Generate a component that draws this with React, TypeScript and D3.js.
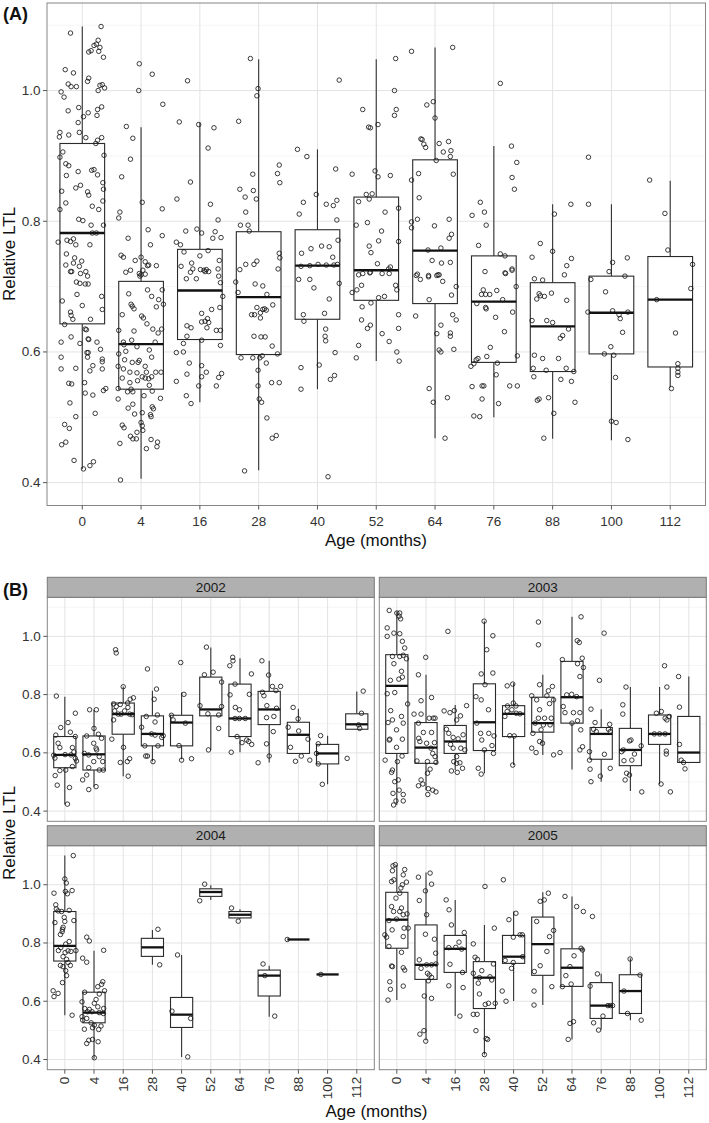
import React from 'react';
import * as d3 from 'd3';

const FONT = '"Liberation Sans", Arial, Helvetica, sans-serif';

// x categories (age in months) and y axis setup
const ages = ['0', '4', '16', '28', '40', '52', '64', '76', '88', '100', '112'];
const yDomain: [number, number] = [0.365, 1.134];
const yMajor = [0.4, 0.6, 0.8, 1.0];
const yMinor = [0.5, 0.7, 0.9, 1.1];
const years = ['2002', '2003', '2004', '2005'];

// box stats: [lower whisker, q1, median, q3, upper whisker]
type Box = number[] | null;
// points: [jitter (fraction of category step), relative LTL]
type Pt = number[];

const boxesA: Box[] = [
  [0.421, 0.643, 0.782, 0.919, 1.098],
  [0.406, 0.543, 0.612, 0.708, 0.944],
  [0.523, 0.619, 0.694, 0.757, 0.951],
  [0.419, 0.596, 0.684, 0.784, 1.048],
  [0.543, 0.650, 0.732, 0.787, 0.910],
  [0.586, 0.679, 0.725, 0.837, 1.048],
  [0.468, 0.674, 0.755, 0.894, 1.066],
  [0.500, 0.584, 0.677, 0.747, 0.915],
  [0.467, 0.570, 0.639, 0.706, 0.826],
  [0.465, 0.597, 0.660, 0.716, 0.826],
  [0.546, 0.577, 0.680, 0.746, 0.862],
];

const pointsA: Pt[][] = [
  [[-0.20,1.088],[0.32,1.098],[0.27,1.077],[0.24,1.071],[0.20,1.069],[0.15,1.061],[0.11,1.059],[0.30,1.066],[0.28,1.060],[0.36,1.051],[-0.29,1.032],[-0.15,1.027],[-0.24,1.010],[-0.19,1.006],[-0.10,1.006],[0.09,1.014],[0.11,1.019],[-0.36,0.998],[-0.31,0.990],[0.30,1.008],[0.34,1.009],[0.38,1.004],[0.27,1.000],[-0.24,0.969],[-0.06,0.974],[0.10,0.966],[0.26,0.971],[0.33,0.975],[0.25,0.962],[0.02,0.960],[-0.07,0.951],[-0.05,0.936],[-0.39,0.929],[-0.38,0.936],[-0.23,0.932],[0.06,0.928],[0.33,0.928],[0.23,0.919],[0.26,0.924],[-0.38,0.898],[-0.33,0.906],[-0.28,0.888],[-0.23,0.885],[-0.27,0.870],[-0.07,0.876],[0.16,0.878],[0.20,0.879],[0.26,0.871],[0.37,0.901],[0.35,0.859],[0.36,0.849],[-0.35,0.846],[-0.28,0.828],[-0.11,0.851],[-0.03,0.855],[0.09,0.845],[0.11,0.840],[0.17,0.823],[0.28,0.818],[0.35,0.831],[-0.38,0.818],[-0.06,0.803],[0.01,0.801],[0.15,0.794],[0.24,0.782],[0.17,0.782],[0.36,0.794],[-0.41,0.768],[-0.26,0.771],[-0.20,0.769],[-0.15,0.773],[-0.11,0.764],[0.13,0.764],[-0.27,0.750],[-0.13,0.744],[-0.01,0.739],[-0.28,0.733],[-0.15,0.736],[-0.05,0.731],[0.06,0.723],[-0.18,0.723],[0.09,0.716],
   [-0.20,0.723],[-0.03,0.720],[-0.10,0.707],[-0.04,0.705],[0.05,0.704],[0.10,0.704],[-0.09,0.688],[-0.34,0.678],[0,0.671],[0.14,0.650],[0.33,0.685],[0.34,0.665],[-0.20,0.661],[-0.19,0.656],[-0.16,0.650],[-0.30,0.642],[0.05,0.635],[0.07,0.634],[-0.19,0.623],[-0.04,0.613],[0.10,0.620],[0.11,0.619],[0.25,0.615],[-0.36,0.615],[0.08,0.599],[0.10,0.599],[0.31,0.604],[-0.36,0.592],[0.09,0.592],[0.34,0.589],[0.34,0.585],[0.18,0.579],[-0.11,0.575],[-0.36,0.574],[0.34,0.574],[0.13,0.571],[0.04,0.553],[-0.18,0.551],[-0.23,0.552],[0.40,0.544],[0.36,0.541],[0.05,0.537],[0.18,0.534],[-0.21,0.522],[0.22,0.506],[-0.11,0.501],[-0.30,0.489],[-0.22,0.483],[-0.28,0.462],[-0.35,0.458],[-0.14,0.434],[0.13,0.426],[0.19,0.432],[0.02,0.421]],
  [[-0.03,1.041],[0.19,1.025],[-0.04,1.000],[0.37,0.979],[-0.25,0.945],[-0.14,0.927],[-0.18,0.895],[-0.33,0.868],[0.02,0.829],[0.36,0.819],[-0.36,0.814],[-0.38,0.805],[0.12,0.787],[-0.22,0.774],[0.36,0.778],[0.16,0.764],[-0.34,0.748],[-0.30,0.745],[-0.10,0.740],[0,0.745],[0.07,0.738],[0.11,0.732],[0.13,0.733],[0.26,0.732],[-0.18,0.725],[-0.03,0.720],[0,0.718],[0.03,0.725],
   [-0.26,0.722],[-0.02,0.716],[0.07,0.719],[0.11,0.695],[-0.21,0.689],[0.18,0.685],[0.36,0.695],[0.30,0.680],[-0.17,0.673],[-0.15,0.670],[-0.12,0.666],[0.38,0.673],[0.26,0.669],[-0.32,0.657],[0.01,0.655],[0.04,0.652],[0.10,0.643],[0.20,0.635],[-0.12,0.632],[0.35,0.635],[-0.38,0.633],[0.29,0.629],[-0.30,0.615],[-0.29,0.611],[-0.16,0.618],[-0.07,0.608],[0.24,0.615],[0.14,0.603],[-0.26,0.601],[-0.38,0.597],[-0.28,0.588],[-0.03,0.587],[0.18,0.592],[-0.15,0.584],[-0.05,0.584],[0.07,0.578],[-0.39,0.578],[-0.30,0.574],[-0.19,0.569],[-0.07,0.568],[0.09,0.569],[0.25,0.569],[0.34,0.569],[0.02,0.562],[0.07,0.560],[0.13,0.559],[-0.32,0.560],[0.18,0.562],[-0.19,0.553],[-0.06,0.556],[0.14,0.549],[-0.39,0.544],[-0.17,0.543],[-0.14,0.539],[-0.23,0.539],[0.19,0.540],[0.05,0.533],[0.33,0.529],[-0.39,0.528],[-0.14,0.520],[-0.22,0.514],[0.19,0.516],[0.21,0.513],[0.02,0.507],[-0.11,0.505],[0.16,0.504],[0.17,0.501],[0,0.492],[0.02,0.487],[-0.32,0.488],[-0.29,0.484],[0.03,0.480],[-0.07,0.477],[-0.18,0.471],[-0.14,0.467],[-0.08,0.467],[0.17,0.466],[0.28,0.462],[-0.36,0.460],[0.27,0.455],[0.09,0.452],[-0.35,0.404]],
  [[-0.21,1.015],[-0.35,0.952],[-0.02,0.948],[0.24,0.943],[0.14,0.912],[-0.16,0.860],[-0.39,0.834],[0.18,0.826],[0.31,0.802],[-0.24,0.785],[-0.05,0.788],[0.03,0.782],[0.26,0.784],[0.22,0.774],[0.36,0.775],[-0.40,0.768],[-0.33,0.764],[-0.27,0.753],[0.14,0.755],[0,0.747],[-0.14,0.736],[-0.32,0.731],[-0.12,0.727],[0.01,0.726],[0.07,0.725],[0.11,0.726],[0.31,0.727],[0.33,0.740],
   [-0.23,0.712],[-0.06,0.712],[0.09,0.723],[0.15,0.723],[-0.16,0.722],[0.32,0.716],[0.35,0.706],[0.39,0.685],[0.34,0.668],[0.20,0.665],[0.03,0.659],[0.09,0.647],[0.13,0.651],[0.15,0.645],[0.03,0.646],[0.12,0.637],[0.28,0.633],[0.35,0.633],[-0.22,0.640],[-0.15,0.637],[-0.22,0.624],[0.03,0.618],[0.35,0.610],[-0.28,0.613],[-0.40,0.599],[-0.28,0.600],[-0.18,0.583],[0.03,0.579],[0.11,0.569],[0.03,0.562],[0.37,0.567],[0.32,0.561],[-0.22,0.566],[-0.40,0.555],[-0.02,0.548],[0.28,0.548],[-0.23,0.533],[-0.15,0.521]],
  [[-0.14,1.049],[-0.01,1.003],[-0.03,0.992],[-0.34,0.953],[0.35,0.886],[0.32,0.873],[0.36,0.859],[-0.10,0.872],[-0.32,0.849],[-0.09,0.847],[-0.23,0.837],[-0.04,0.834],[-0.22,0.814],[-0.31,0.794],[-0.18,0.794],[-0.16,0.785],[-0.32,0.726],[-0.22,0.734],[-0.08,0.734],[-0.03,0.739],[0.33,0.727],[0.36,0.744],[0.35,0.751],
   [-0.39,0.707],[-0.35,0.691],[-0.06,0.704],[0.07,0.701],[0.14,0.688],[0.24,0.672],[-0.12,0.657],[-0.07,0.657],[0.03,0.660],[0.07,0.665],[0.10,0.666],[0.13,0.664],[-0.03,0.668],[0.03,0.652],[-0.08,0.624],[0.04,0.623],[0.11,0.623],[0.23,0.609],[-0.30,0.591],[-0.10,0.591],[0.02,0.591],[0.06,0.594],[0.32,0.597],[-0.01,0.572],[0.13,0.583],[0.22,0.553],[0.35,0.553],[-0.01,0.548],[0.01,0.528],[0.05,0.523],[0.14,0.499],[0.23,0.468],[0.30,0.472],[-0.24,0.418]],
  [[0.37,1.016],[-0.34,0.910],[-0.18,0.899],[-0.02,0.841],[-0.24,0.829],[0.15,0.826],[0.31,0.880],[0.27,0.824],[0.33,0.832],[0.33,0.802],[-0.31,0.811],[-0.27,0.751],[-0.11,0.758],[0.07,0.762],[0.20,0.761],[0.26,0.745],[0.35,0.771],[-0.28,0.731],[-0.13,0.732],[0.01,0.734],[0.15,0.733],[0.28,0.733],[0.34,0.734],[-0.32,0.711],[-0.13,0.711],[-0.06,0.698],[0.20,0.681],[0.37,0.705],[-0.24,0.657],[-0.23,0.647],[0.12,0.659],[0.14,0.635],[0.13,0.624],[0.14,0.617],[0.30,0.599],[-0.28,0.576],[0.03,0.580],[0.29,0.564],[0.22,0.558],[-0.28,0.543],[0.18,0.409]],
  [[0.33,1.049],[0.31,1.000],[-0.23,0.971],[0.34,0.971],[0.31,0.962],[-0.13,0.944],[-0.10,0.943],[0.03,0.948],[-0.41,0.872],[-0.02,0.877],[0.03,0.868],[0.24,0.870],[-0.17,0.841],[-0.12,0.834],[-0.07,0.842],[-0.30,0.830],[0.15,0.814],[0.38,0.820],[-0.34,0.794],[-0.15,0.798],[0.09,0.785],[-0.12,0.762],[-0.09,0.752],[0.04,0.770],[0.38,0.769],[0.02,0.735],[0.24,0.730],[0.21,0.727],[0.10,0.720],[0.22,0.720],[-0.30,0.718],[-0.10,0.722],
   [-0.23,0.720],[-0.11,0.721],[-0.25,0.702],[0.33,0.702],[0.35,0.695],[-0.41,0.691],[-0.33,0.695],[0.04,0.683],[0.14,0.685],[-0.09,0.675],[-0.24,0.669],[0.38,0.657],[-0.25,0.649],[-0.10,0.641],[-0.15,0.636],[0.38,0.636],[0.10,0.628],[0.22,0.616],[-0.30,0.610],[-0.34,0.591],[0.35,0.600],[0.39,0.586]],
  [[0.30,1.066],[-0.40,1.060],[-0.14,0.978],[-0.03,0.983],[0,0.958],[-0.24,0.926],[-0.22,0.925],[-0.19,0.918],[-0.16,0.913],[0.07,0.919],[0.23,0.922],[0.27,0.908],[0.14,0.906],[0.26,0.899],[0.02,0.893],[-0.40,0.863],[-0.28,0.873],[0.31,0.872],[-0.27,0.836],[-0.40,0.790],[-0.40,0.799],[-0.30,0.803],[-0.01,0.793],[0.24,0.803],[0.28,0.780],[0.24,0.774],[-0.12,0.756],[0.10,0.759],[-0.05,0.740],[0.11,0.736],[0.26,0.737],[-0.30,0.719],[-0.11,0.715],[0.05,0.718],
   [-0.32,0.717],[-0.25,0.711],[-0.11,0.717],[0.03,0.717],[0.07,0.718],[0.13,0.708],[0.36,0.700],[0.28,0.687],[-0.10,0.680],[-0.33,0.655],[0.30,0.657],[0.36,0.649],[0.10,0.641],[0.26,0.629],[0.26,0.624],[0.03,0.628],[0.07,0.603],[0.10,0.600],[0.32,0.604],[-0.10,0.544],[-0.03,0.523],[0.21,0.530],[0.17,0.468]],
  [[0.11,1.011],[0.30,0.915],[0.39,0.890],[0.31,0.867],[0.35,0.849],[-0.23,0.829],[-0.16,0.814],[-0.37,0.809],[-0.13,0.794],[-0.26,0.763],[0.11,0.750],[0.19,0.747],[-0.15,0.723],[0.31,0.727],[0.19,0.721],
   [0.20,0.720],[0.31,0.725],[0.38,0.700],[-0.18,0.695],[0.05,0.694],[-0.21,0.688],[-0.14,0.688],[-0.07,0.688],[0.15,0.680],[-0.29,0.674],[-0.14,0.668],[-0.13,0.666],[0.32,0.661],[0.03,0.653],[0.18,0.631],[-0.06,0.607],[-0.12,0.593],[0.40,0.594],[-0.27,0.590],[-0.30,0.588],[-0.39,0.578],[-0.34,0.582],[0.06,0.583],[0.04,0.565],[-0.37,0.547],[-0.20,0.548],[-0.17,0.548],[0.27,0.548],[0.40,0.548],[-0.20,0.528],[0.08,0.521],[-0.34,0.502],[-0.24,0.501]],
  [[-0.35,0.745],[-0.21,0.766],[0.03,0.811],[0.31,0.826],[0,0.754],[0.32,0.743],[0.24,0.732],[0.20,0.718],
   [-0.31,0.712],[-0.17,0.710],[-0.23,0.689],[-0.21,0.686],[-0.27,0.681],[-0.14,0.685],[-0.02,0.690],[0.24,0.679],[-0.35,0.648],[-0.10,0.648],[0,0.645],[0.27,0.635],[0.13,0.621],[0.17,0.625],[-0.31,0.595],[-0.17,0.590],[0.10,0.590],[-0.33,0.575],[-0.11,0.572],[0.23,0.575],[0.36,0.570],[-0.32,0.562],[0.14,0.558],[0.32,0.555],[-0.26,0.526],[-0.23,0.528],[-0.07,0.530],[0.38,0.523],[0.02,0.506],[-0.15,0.468]],
  [[-0.39,0.898],[-0.39,0.826],[0.02,0.737],[0.27,0.744],[-0.04,0.723],[0.23,0.716],[-0.35,0.711],[-0.10,0.692],[-0.40,0.661],[0.02,0.663],[0.13,0.657],[0.15,0.651],[0.28,0.661],[0.19,0.630],[-0.01,0.608],[-0.12,0.597],[0.04,0.595],[0.07,0.561],[0,0.494],[0.08,0.492],[0.28,0.466]],
  [[-0.35,0.863],[-0.09,0.812],[-0.04,0.756],[0.38,0.734],[0.35,0.697],[-0.23,0.680],[0.09,0.629],[0.13,0.582],[0.13,0.575],[0.13,0.569],[0.13,0.564],[0.02,0.544]],
];

const boxes2002: Box[] = [
  [0.423, 0.549, 0.593, 0.656, 0.793],
  [0.484, 0.541, 0.595, 0.658, 0.748],
  [0.520, 0.664, 0.733, 0.771, 0.828],
  [0.570, 0.624, 0.665, 0.727, 0.813],
  [0.578, 0.624, 0.704, 0.729, 0.807],
  [0.610, 0.727, 0.749, 0.860, 0.962],
  [0.602, 0.656, 0.718, 0.836, 0.925],
  [0.567, 0.697, 0.749, 0.811, 0.916],
  [0.598, 0.598, 0.662, 0.705, 0.751],
  [0.492, 0.562, 0.598, 0.629, 0.659],
  [0.681, 0.681, 0.698, 0.734, 0.811],
];

const points2002: Pt[][] = [
  [[-0.29,0.795],[-0.31,0.661],[-0.14,0.687],[0.11,0.704],[0.19,0.671],[0.36,0.736],[0.36,0.656],[-0.23,0.633],[-0.17,0.618],[-0.38,0.592],[0.01,0.594],[0.21,0.593],[0.31,0.603],[0.26,0.618],[0.36,0.581],[0.40,0.572],[0.26,0.553],[-0.17,0.539],[-0.33,0.522],[0.03,0.541],[-0.26,0.489],[0.16,0.481],[0.09,0.424],[-0.34,0.582]],
  [[-0.15,0.748],[0.08,0.748],[-0.25,0.658],[0,0.684],[0.15,0.664],[0.26,0.650],[-0.01,0.633],[0.07,0.616],[0.09,0.610],[-0.33,0.598],[-0.18,0.593],[0.18,0.587],[-0.01,0.570],[0.30,0.570],[-0.18,0.549],[0.18,0.541],[0.32,0.541],[-0.25,0.524],[-0.39,0.507],[0.07,0.484],[-0.18,0.474]],
  [[-0.26,0.954],[-0.24,0.943],[0,0.827],[-0.33,0.768],[-0.24,0.759],[-0.10,0.766],[0.15,0.771],[0.24,0.784],[0.35,0.789],[-0.29,0.744],[-0.17,0.733],[-0.07,0.733],[0.05,0.744],[0.16,0.756],[0.22,0.733],[0.31,0.731],[-0.33,0.713],[-0.39,0.647],[0.01,0.619],[-0.10,0.567],[0.14,0.570],[0.22,0.580],[0.17,0.520]],
  [[-0.17,0.888],[0.14,0.819],[0.06,0.784],[-0.37,0.688],[-0.21,0.725],[0.09,0.706],[0.17,0.730],[-0.03,0.665],[0.09,0.661],[0.37,0.659],[0.32,0.653],[-0.26,0.624],[-0.17,0.589],[-0.23,0.589],[0.19,0.624],[0.02,0.570]],
  [[-0.03,0.910],[0.08,0.801],[-0.35,0.729],[-0.29,0.713],[0.13,0.702],[-0.09,0.625],[0,0.575],[0.34,0.580]],
  [[-0.15,0.963],[0.08,0.877],[-0.22,0.868],[-0.37,0.762],[-0.10,0.734],[0.27,0.730],[0.37,0.843],[0.37,0.759],[-0.08,0.610],[0.27,0.684]],
  [[-0.25,0.928],[-0.24,0.916],[-0.35,0.899],[-0.17,0.836],[-0.34,0.799],[0.32,0.801],[0.39,0.871],[-0.16,0.756],[-0.02,0.748],[-0.17,0.718],[-0.02,0.718],[0.18,0.718],[-0.10,0.656],[0.07,0.635],[0.23,0.644],[0.30,0.639],[0.40,0.629],[-0.30,0.602]],
  [[-0.25,0.916],[-0.02,0.867],[-0.23,0.808],[-0.18,0.796],[0.11,0.828],[0.39,0.828],[0.23,0.814],[-0.08,0.762],[0.25,0.753],[0.16,0.725],[-0.09,0.721],[0.14,0.673],[-0.09,0.631],[0,0.589],[-0.38,0.566]],
  [[-0.18,0.756],[-0.35,0.688],[-0.01,0.717],[0.01,0.675],[0.33,0.647],[-0.27,0.619],[0.10,0.589],[-0.10,0.571],[0.39,0.575]],
  [[-0.24,0.659],[-0.32,0.631],[-0.38,0.598],[-0.32,0.562],[-0.18,0.492]],
  [[-0.33,0.581],[0.06,0.696],[0.22,0.812],[0.16,0.736],[0.10,0.684]],
];

const boxes2003: Box[] = [
  [0.421, 0.598, 0.830, 0.937, 1.086],
  [0.472, 0.564, 0.618, 0.704, 0.868],
  [0.541, 0.598, 0.639, 0.694, 0.764],
  [0.530, 0.608, 0.705, 0.837, 1.052],
  [0.558, 0.656, 0.734, 0.762, 0.839],
  [0.593, 0.671, 0.702, 0.791, 0.868],
  [0.543, 0.702, 0.791, 0.914, 1.067],
  [0.501, 0.578, 0.665, 0.687, 0.750],
  [0.469, 0.556, 0.610, 0.684, 0.826],
  [0.492, 0.629, 0.665, 0.730, 0.826],
  [0.567, 0.567, 0.601, 0.725, 0.862],
];

const points2003: Pt[][] = [
  [[-0.26,1.089],[0,1.080],[0.10,1.080],[0.08,1.069],[0.13,1.060],[-0.33,1.029],[-0.33,1.000],[-0.10,1.011],[0.10,1.009],[0.19,0.983],[0.27,0.960],[-0.15,0.931],[0.10,0.931],[0.22,0.935],[0.33,0.923],[-0.10,0.906],[0.16,0.880],[0.19,0.860],[0.07,0.853],[-0.22,0.849],[-0.33,0.803],[-0.07,0.807],[0.37,0.768],[-0.21,0.745],[-0.30,0.704],[-0.15,0.713],[0.16,0.725],[0.22,0.702],[-0.01,0.679],[-0.26,0.644],[-0.24,0.647],[0.19,0.647],[-0.01,0.619],[-0.40,0.575],[0.02,0.570],[0.18,0.589],[-0.15,0.541],[-0.18,0.533],[0.05,0.507],[-0.07,0.501],[0.08,0.472],[0.22,0.457],[0.22,0.435],[-0.03,0.435],[-0.11,0.421],[-0.13,0.461]],
  [[-0.01,0.928],[-0.26,0.868],[0.19,0.790],[-0.17,0.779],[-0.41,0.733],[-0.17,0.733],[0.11,0.719],[0.25,0.719],[0.31,0.719],[-0.26,0.702],[-0.09,0.670],[0.19,0.670],[-0.25,0.650],[-0.21,0.639],[0.02,0.633],[0.29,0.635],[0.17,0.616],[0.23,0.598],[0.31,0.587],[0.34,0.567],[-0.31,0.572],[0.05,0.570],[0.14,0.544],[0.05,0.530],[-0.17,0.507],[-0.11,0.493],[-0.26,0.487],[0.08,0.477],[0.23,0.472],[0.34,0.466],[0.06,0.457]],
  [[-0.25,1.017],[-0.38,0.744],[-0.18,0.738],[-0.03,0.745],[0.18,0.727],[0.39,0.762],[0.05,0.713],[-0.30,0.681],[-0.22,0.667],[-0.07,0.653],[0.10,0.648],[0.27,0.662],[-0.16,0.629],[-0.07,0.616],[0.19,0.616],[0.33,0.610],[0.05,0.587],[-0.05,0.570],[0.05,0.564],[0.16,0.566],[0.25,0.547],[0.07,0.533],[-0.13,0.538]],
  [[-0.01,1.052],[0.29,1.002],[0.08,0.954],[-0.11,0.871],[0.29,0.874],[-0.29,0.793],[0.02,0.834],[-0.11,0.782],[0.14,0.748],[-0.13,0.667],[0.15,0.667],[-0.26,0.702],[0.33,0.658],[-0.09,0.644],[0.26,0.625],[0,0.610],[-0.21,0.547],[-0.11,0.527],[0.31,0.598]],
  [[-0.22,0.830],[-0.03,0.836],[-0.21,0.761],[-0.01,0.771],[0.08,0.761],[-0.06,0.748],[-0.22,0.742],[0.09,0.736],[0.22,0.734],[-0.13,0.659],[0.02,0.658],[-0.03,0.558],[-0.30,0.725]],
  [[-0.15,1.049],[-0.15,0.971],[-0.11,0.834],[0.33,0.828],[0.19,0.813],[0.14,0.796],[-0.38,0.796],[-0.21,0.782],[0.23,0.769],[0.37,0.782],[-0.11,0.748],[-0.15,0.719],[0.06,0.719],[0.29,0.719],[-0.26,0.702],[0.02,0.696],[0.25,0.696],[-0.06,0.679],[-0.34,0.667],[-0.11,0.639],[-0.01,0.633],[-0.38,0.616],[-0.23,0.601],[0.37,0.593]],
  [[0.31,1.067],[0.18,0.985],[0.25,0.979],[-0.33,0.920],[0.19,0.906],[0.35,0.925],[0.39,0.893],[0.27,0.862],[-0.18,0.799],[-0.01,0.801],[0.16,0.793],[-0.30,0.759],[-0.24,0.738],[0.05,0.738],[0.27,0.738],[0.19,0.710],[0.30,0.679],[-0.41,0.601],[0,0.702],[0.27,0.610],[0.36,0.621]],
  [[0.10,1.011],[-0.06,0.849],[-0.35,0.750],[-0.21,0.704],[-0.17,0.673],[-0.26,0.681],[0.29,0.698],[0.25,0.681],[0.31,0.673],[-0.40,0.604],[-0.40,0.575],[0.11,0.595],[0.31,0.547],[-0.35,0.501],[-0.03,0.520],[-0.38,0.544]],
  [[-0.15,0.826],[-0.26,0.765],[-0.26,0.733],[0.02,0.644],[-0.03,0.641],[0.37,0.624],[-0.30,0.604],[0.14,0.596],[-0.22,0.573],[0.05,0.575],[-0.03,0.524],[-0.13,0.530],[-0.18,0.507],[0.39,0.466],[-0.24,0.610]],
  [[0.17,0.899],[0.25,0.826],[0.06,0.742],[-0.11,0.736],[0.19,0.719],[0.25,0.713],[0.33,0.725],[-0.18,0.665],[0,0.665],[0.19,0.665],[0.23,0.606],[0.23,0.596],[0.05,0.493],[0.37,0.466]],
  [[-0.35,0.862],[-0.32,0.757],[-0.32,0.629],[-0.26,0.575],[-0.18,0.567],[-0.13,0.545]],
];

const boxes2004: Box[] = [
  [0.552, 0.738, 0.790, 0.908, 1.100],
  [0.403, 0.526, 0.561, 0.631, 0.773],
  null,
  [0.725, 0.754, 0.785, 0.816, 0.845],
  [0.409, 0.510, 0.554, 0.613, 0.759],
  [0.948, 0.960, 0.975, 0.986, 0.998],
  [0.882, 0.886, 0.897, 0.908, 0.916],
  [0.547, 0.618, 0.688, 0.707, 0.722],
  [0.812, 0.812, 0.812, 0.812, 0.812],
  [0.692, 0.692, 0.692, 0.692, 0.692],
  null,
];

const points2004: Pt[][] = [
  [[0.29,1.100],[0,1.020],[0.05,1.006],[0.02,0.977],[0.09,0.969],[0.25,0.980],[-0.37,0.971],[-0.31,0.931],[-0.29,0.917],[-0.23,0.910],[-0.11,0.908],[0.15,0.912],[-0.34,0.870],[-0.02,0.888],[0.31,0.877],[0,0.874],[-0.06,0.854],[-0.09,0.839],[-0.15,0.829],[-0.08,0.847],[0.15,0.805],[0.03,0.796],[-0.14,0.784],[-0.22,0.774],[0.11,0.773],[0.21,0.771],[0.38,0.774],[0.01,0.767],[-0.06,0.753],[0.06,0.744],[0.11,0.733],[-0.15,0.723],[-0.06,0.719],[0.19,0.723],[0.03,0.705],[0.06,0.688],[-0.08,0.664],[-0.40,0.636],[-0.23,0.627],[-0.37,0.616],[0.25,0.552]],
  [[-0.25,0.820],[-0.16,0.807],[-0.39,0.748],[-0.25,0.734],[0.33,0.775],[-0.32,0.631],[0.13,0.650],[0.26,0.658],[0.30,0.667],[0.36,0.636],[0.18,0.625],[0.07,0.606],[-0.41,0.598],[-0.32,0.575],[0.01,0.593],[0.13,0.581],[-0.16,0.572],[-0.22,0.564],[-0.07,0.564],[0.18,0.561],[0.32,0.558],[0.33,0.575],[-0.41,0.547],[-0.39,0.535],[-0.25,0.541],[-0.10,0.526],[0.01,0.518],[0.24,0.515],[-0.05,0.509],[0.16,0.503],[-0.33,0.504],[-0.18,0.466],[-0.05,0.469],[-0.25,0.455],[0.14,0.461],[0.01,0.406]],
  [],
  [[0.19,0.847],[0.25,0.725]],
  [[-0.14,0.759],[-0.33,0.566],[0.31,0.541],[0.21,0.409]],
  [[-0.38,0.945],[-0.21,1.002]],
  [[-0.29,0.920],[-0.06,0.875]],
  [[-0.21,0.728],[-0.15,0.688],[0.19,0.549]],
  [[-0.38,0.812]],
  [[-0.23,0.692]],
  [],
];

const boxes2005: Box[] = [
  [0.604, 0.782, 0.880, 0.974, 1.069],
  [0.466, 0.675, 0.725, 0.862, 1.042],
  [0.549, 0.699, 0.780, 0.826, 0.948],
  [0.417, 0.575, 0.681, 0.736, 0.862],
  [0.601, 0.730, 0.753, 0.826, 0.908],
  [0.587, 0.689, 0.796, 0.889, 0.974],
  [0.469, 0.651, 0.715, 0.780, 0.960],
  [0.503, 0.541, 0.585, 0.664, 0.694],
  [0.535, 0.558, 0.635, 0.691, 0.748],
  null,
  null,
];

const points2005: Pt[][] = [
  [[-0.13,1.065],[-0.05,1.069],[-0.15,1.048],[0.27,1.052],[0.22,1.034],[-0.18,1.011],[-0.10,1.017],[0.33,1.009],[0.19,1.000],[0.14,0.989],[0.10,0.971],[-0.03,0.954],[-0.18,0.925],[0.16,0.920],[-0.11,0.908],[0.10,0.908],[0.22,0.897],[-0.27,0.877],[-0.01,0.882],[0.35,0.900],[-0.16,0.845],[0.25,0.851],[0.39,0.851],[0.22,0.822],[-0.41,0.828],[-0.35,0.820],[-0.27,0.788],[0.16,0.768],[-0.18,0.721],[-0.15,0.719],[0.22,0.715],[0.27,0.707],[-0.24,0.667],[-0.22,0.641],[0.22,0.652],[-0.30,0.604]],
  [[-0.26,1.026],[0.14,1.040],[0.19,1.002],[-0.02,0.979],[-0.23,0.946],[0.02,0.897],[-0.02,0.830],[0.29,0.813],[0.33,0.765],[-0.23,0.742],[-0.17,0.713],[0.02,0.725],[0.19,0.725],[0.34,0.728],[0.05,0.696],[0.11,0.690],[0.19,0.682],[0.08,0.670],[-0.06,0.618],[0.19,0.610],[-0.21,0.487],[-0.07,0.499],[-0.01,0.463]],
  [[-0.31,0.948],[-0.21,0.914],[-0.13,0.862],[-0.22,0.784],[0.02,0.785],[0.13,0.803],[0.31,0.836],[0.22,0.779],[-0.18,0.727],[0.25,0.699],[-0.22,0.653],[0.27,0.647],[0.16,0.549]],
  [[0.02,0.994],[-0.38,0.797],[-0.32,0.751],[-0.24,0.744],[-0.09,0.705],[0.31,0.728],[-0.38,0.696],[-0.17,0.681],[0.19,0.684],[0.25,0.673],[-0.21,0.662],[-0.17,0.625],[0.03,0.589],[0.14,0.593],[0.37,0.593],[-0.38,0.555],[-0.25,0.555],[-0.29,0.499],[0.06,0.472],[0.11,0.469],[0,0.417],[0.34,0.851]],
  [[-0.35,1.017],[0.08,0.902],[-0.16,0.880],[-0.01,0.820],[0.22,0.828],[0.30,0.828],[0.31,0.753],[-0.29,0.740],[-0.01,0.733],[-0.07,0.713],[-0.39,0.635],[-0.26,0.600]],
  [[0.19,0.971],[0.05,0.948],[-0.09,0.943],[-0.21,0.874],[0.37,0.843],[0.23,0.822],[0.14,0.771],[-0.09,0.722],[-0.29,0.702],[-0.30,0.635],[0.31,0.650],[-0.30,0.587]],
  [[-0.24,0.960],[0.16,0.925],[0.39,0.908],[0.31,0.782],[0.36,0.776],[0.07,0.756],[-0.07,0.719],[-0.21,0.688],[-0.03,0.659],[-0.33,0.650],[-0.07,0.524],[0.05,0.530],[-0.13,0.469]],
  [[-0.30,0.891],[-0.13,0.694],[-0.38,0.652],[0.23,0.585],[0.32,0.585],[0.39,0.585],[-0.26,0.526],[0.06,0.549],[-0.09,0.501]],
  [[-0.01,0.745],[0.33,0.690],[-0.22,0.635],[-0.10,0.558],[0.37,0.535]],
  [],
  [],
];

interface PanelProps {
  left: number;
  top: number;
  width: number;
  height: number;
  boxes: Box[];
  points: Pt[][];
  yAxis: boolean;
  xAxis: 'flat' | 'rotated' | 'none';
  strip?: string;
}

function Panel(p: PanelProps) {
  const x = d3.scalePoint<string>().domain(ages).range([p.left, p.left + p.width]).padding(0.6);
  const y = d3.scaleLinear().domain(yDomain).range([p.top + p.height, p.top]);
  const step = x.step();
  const half = step * 0.38;
  const right = p.left + p.width;
  const bottom = p.top + p.height;
  const fmt = d3.format('.1f');

  return (
    <g>
      <rect x={p.left} y={p.top} width={p.width} height={p.height} fill="#fff" />
      {yMinor.map((v) => (
        <line key={'mn' + v} x1={p.left} x2={right} y1={y(v)} y2={y(v)} stroke="#f2f2f2" strokeWidth={0.8} />
      ))}
      {yMajor.map((v) => (
        <line key={'mj' + v} x1={p.left} x2={right} y1={y(v)} y2={y(v)} stroke="#e3e3e3" strokeWidth={1} />
      ))}
      {ages.map((a) => (
        <line key={'vx' + a} x1={x(a)} x2={x(a)} y1={p.top} y2={bottom} stroke="#e3e3e3" strokeWidth={1} />
      ))}

      {p.boxes.map((b, i) => {
        if (!b) return null;
        const cx = x(ages[i]) as number;
        return (
          <g key={'b' + i}>
            <line x1={cx} x2={cx} y1={y(b[3])} y2={y(b[4])} stroke="#333" strokeWidth={1.1} />
            <line x1={cx} x2={cx} y1={y(b[0])} y2={y(b[1])} stroke="#333" strokeWidth={1.1} />
            <rect x={cx - half} y={y(b[3])} width={half * 2} height={y(b[1]) - y(b[3])}
              fill="#fff" stroke="#2a2a2a" strokeWidth={1.1} />
            <line x1={cx - half} x2={cx + half} y1={y(b[2])} y2={y(b[2])} stroke="#111" strokeWidth={2.3} />
          </g>
        );
      })}

      {p.points.map((pts, i) => {
        const cx = x(ages[i]) as number;
        return pts.map((d, k) => (
          <circle key={'p' + i + '-' + k} cx={cx + d[0] * step} cy={y(d[1])} r={2.25}
            fill="none" stroke="#1a1a1a" strokeWidth={0.85} />
        ));
      })}

      <rect x={p.left} y={p.top} width={p.width} height={p.height} fill="none" stroke="#858585" strokeWidth={1} />

      {p.strip && (
        <g>
          <rect x={p.left} y={p.top - 20} width={p.width} height={20} fill="#b0b0b0" stroke="#7a7a7a" strokeWidth={1} />
          <text x={p.left + p.width / 2} y={p.top - 5.5} textAnchor="middle" fontSize={13.5} fill="#1a1a1a" fontFamily={FONT}>
            {p.strip}
          </text>
        </g>
      )}

      {p.yAxis &&
        yMajor.map((v) => (
          <g key={'yt' + v}>
            <line x1={p.left - 4} x2={p.left} y1={y(v)} y2={y(v)} stroke="#555" strokeWidth={1} />
            <text x={p.left - 6.5} y={y(v)} textAnchor="end" dominantBaseline="central" fontSize={13.5}
              fill="#333" fontFamily={FONT}>
              {fmt(v)}
            </text>
          </g>
        ))}

      {p.xAxis !== 'none' &&
        ages.map((a) => {
          const cx = x(a) as number;
          return (
            <g key={'xt' + a}>
              <line x1={cx} x2={cx} y1={bottom} y2={bottom + 4} stroke="#555" strokeWidth={1} />
              {p.xAxis === 'flat' ? (
                <text x={cx} y={bottom + 20} textAnchor="middle" fontSize={13.5} fill="#333" fontFamily={FONT}>
                  {a}
                </text>
              ) : (
                <text transform={`translate(${cx},${bottom + 7}) rotate(-90)`} textAnchor="end"
                  dominantBaseline="central" fontSize={13.5} fill="#333" fontFamily={FONT}>
                  {a}
                </text>
              )}
            </g>
          );
        })}
    </g>
  );
}

export default function App() {
  const facetBoxes = [boxes2002, boxes2003, boxes2004, boxes2005];
  const facetPoints = [points2002, points2003, points2004, points2005];
  const colLeft = [47.3, 379.3];
  const rowTop = [597.3, 845.7];
  const facetW = 327;
  const facetH = 224;

  return (
    <svg width={709} height={1123} viewBox="0 0 709 1123"
      style={{ position: 'absolute', left: 0, top: 0, background: '#fff' }}>
      <rect x={0} y={0} width={709} height={1123} fill="#fff" />

      {/* (A) pooled */}
      <Panel left={47} top={3} width={658.5} height={502.5} boxes={boxesA} points={pointsA} yAxis xAxis="flat" />
      <text x={3} y={20} fontSize={18} fontWeight="bold" fontFamily={FONT} fill="#111">(A)</text>
      <text transform="translate(15,254) rotate(-90)" textAnchor="middle" fontSize={17} fill="#111" fontFamily={FONT}>
        Relative LTL
      </text>
      <text x={376} y={546} textAnchor="middle" fontSize={17} fill="#111" fontFamily={FONT}>Age (months)</text>

      {/* (B) by year */}
      {years.map((yr, i) => {
        const col = i % 2;
        const row = Math.floor(i / 2);
        return (
          <Panel key={yr} left={colLeft[col]} top={rowTop[row]} width={facetW} height={facetH}
            boxes={facetBoxes[i]} points={facetPoints[i]} yAxis={col === 0}
            xAxis={row === 1 ? 'rotated' : 'none'} strip={yr} />
        );
      })}
      <text x={3} y={596} fontSize={18} fontWeight="bold" fontFamily={FONT} fill="#111">(B)</text>
      <text transform="translate(15,833) rotate(-90)" textAnchor="middle" fontSize={17} fill="#111" fontFamily={FONT}>
        Relative LTL
      </text>
      <text x={376.5} y={1117} textAnchor="middle" fontSize={17} fill="#111" fontFamily={FONT}>Age (months)</text>
    </svg>
  );
}
